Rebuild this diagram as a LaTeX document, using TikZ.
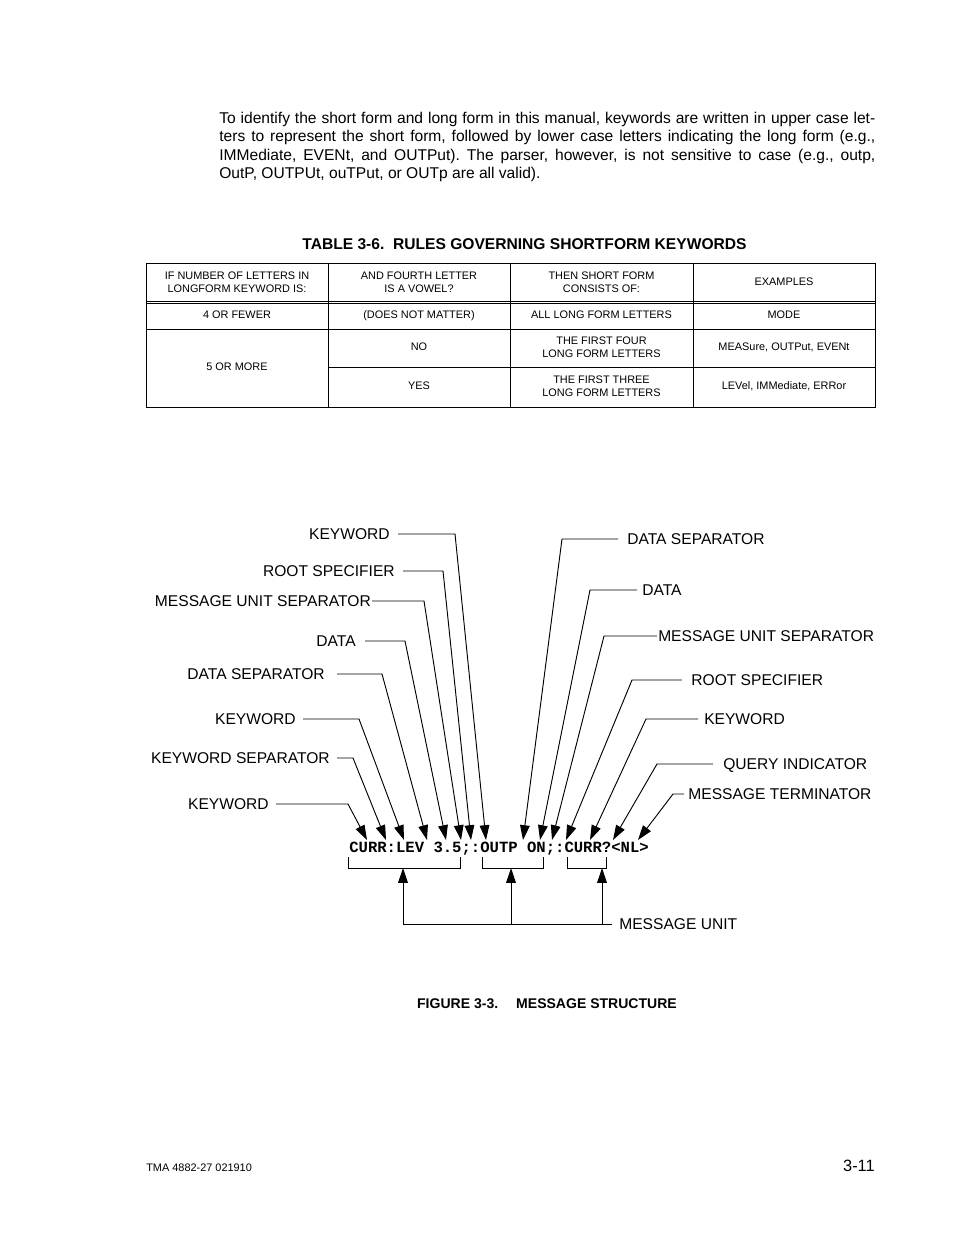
\documentclass[tikz,border=0pt]{standalone}
\usepackage{fontspec}
\setmainfont{Liberation Sans}
\newfontfamily\codefont{Liberation Mono}
\usepackage{tikz}
\usetikzlibrary{arrows.meta, positioning, calc}
\definecolor{ink}{RGB}{0, 0, 0}
\frenchspacing

\begin{document}
\begin{tikzpicture}[
    x=0.64126pt, y=-0.64126pt,
    body/.style={font=\fontsize{10}{11.75}\selectfont, text width=420.7pt,
                 align=justify, inner sep=0pt, anchor=north west},
    caption/.style={font=\fontsize{10}{12}\selectfont\bfseries, inner sep=0pt},
    cell/.style={font=\fontsize{7}{8.3}\selectfont, align=center, inner sep=0pt},
    tablerule/.style={draw=ink, line width=0.6pt},
    tag/.style={font=\fontsize{10}{12}\selectfont, inner sep=3pt,
                text height=7.2pt, text depth=0pt},
    pointer/.style={draw=ink, line width=0.6pt, -{Triangle[length=9.5pt, width=6.2pt]}},
    bracket/.style={draw=ink, line width=0.6pt}
]
    \useasboundingbox (0,0) rectangle (954,1235);

    % ==================== BODY TEXT ====================
    \node[body] (intro) at (219,112) {To identify the short form and long form in this manual, keywords are written in upper case let-\linebreak ters to represent the short form, followed by lower case letters indicating the long form (e.g.,\linebreak IMMediate, EVENt, and OUTPut). The parser, however, is not sensitive to case (e.g., outp,\linebreak OutP, OUTPUt, ouTPut, or OUTp are all valid).};

    % ==================== TABLE ====================
    \node[caption] (tabtitle) at (524.5,244) {TABLE 3-6.\ \ RULES GOVERNING SHORTFORM KEYWORDS};

    \draw[tablerule] (146,263) rectangle (875,407);
    \draw[tablerule] (328,263) -- (328,407);
    \draw[tablerule] (510,263) -- (510,407);
    \draw[tablerule] (693,263) -- (693,407);
    \draw[tablerule] (146,301) -- (875,301);
    \draw[tablerule] (146,303.5) -- (875,303.5);
    \draw[tablerule] (146,329) -- (875,329);
    \draw[tablerule] (328,367) -- (875,367);

    \node[cell] (hletters) at (237,282.5) {IF NUMBER OF LETTERS IN\\LONGFORM KEYWORD IS:};
    \node[cell] (hvowel) at (419,282.5) {AND FOURTH LETTER\\IS A VOWEL?};
    \node[cell] (hshort) at (601.5,282.5) {THEN SHORT FORM\\CONSISTS OF:};
    \node[cell] (hexamples) at (784,282) {EXAMPLES};

    \node[cell] (fewer) at (237,315) {4 OR FEWER};
    \node[cell] (nomatter) at (419,315.8) {(DOES NOT MATTER)};
    \node[cell] (alllong) at (601.5,315) {ALL LONG FORM LETTERS};
    \node[cell] (mode) at (784,315) {MODE};

    \node[cell] (more) at (237,367) {5 OR MORE};
    \node[cell] (no) at (419,347) {NO};
    \node[cell] (firstfour) at (601.5,347.5) {THE FIRST FOUR\\LONG FORM LETTERS};
    \node[cell] (exfour) at (784,347) {MEASure, OUTPut, EVENt};
    \node[cell] (yes) at (419,386) {YES};
    \node[cell] (firstthree) at (601.5,386) {THE FIRST THREE\\LONG FORM LETTERS};
    \node[cell] (exthree) at (784,386) {LEVel, IMMediate, ERRor};

    % ==================== MESSAGE ====================
    \node[font=\codefont\bfseries\fontsize{10}{12}\selectfont, anchor=base west,
          inner sep=0pt] (msg) at (349,852) {CURR:LEV 3.5;:OUTP ON;:CURR?<NL>};

    % arrow tips above the characters
    \coordinate (tcurr) at (367,840);
    \coordinate (tcolon) at (386,840);
    \coordinate (tlev) at (404,840);
    \coordinate (tspace) at (427,840);
    \coordinate (tval) at (446,840);
    \coordinate (tsemi) at (461,840);
    \coordinate (troot) at (471,840);
    \coordinate (toutp) at (486,840);
    \coordinate (tspacetwo) at (523,840);
    \coordinate (ton) at (540,840);
    \coordinate (tsemitwo) at (552,840);
    \coordinate (troottwo) at (566,840);
    \coordinate (tcurrtwo) at (590,840);
    \coordinate (tquery) at (613,840);
    \coordinate (tnl) at (638,840);

    % ==================== LEFT LABELS ====================
    \node[tag, anchor=east, inner xsep=5.1pt] (lkwtop) at (398,534) {KEYWORD};
    \node[tag, anchor=east, inner xsep=5.1pt] (lroot) at (403,571) {ROOT SPECIFIER};
    \node[tag, anchor=east, inner xsep=0.6pt] (lmsgsep) at (372,601) {MESSAGE UNIT SEPARATOR};
    \node[tag, anchor=east, inner xsep=5.8pt] (ldata) at (365,641) {DATA};
    \node[tag, anchor=east, inner xsep=7.7pt] (ldatasep) at (337,674) {DATA SEPARATOR};
    \node[tag, anchor=east, inner xsep=4.5pt] (lkwmid) at (303,719) {KEYWORD};
    \node[tag, anchor=east, inner xsep=4.5pt] (lkwsep) at (337,758) {KEYWORD SEPARATOR};
    \node[tag, anchor=east, inner xsep=4.5pt] (lkwlow) at (276,804) {KEYWORD};

    \draw[pointer] (lkwtop.east) -- ++(57,0) -- (toutp);
    \draw[pointer] (lroot.east) -- ++(40,0) -- (troot);
    \draw[pointer] (lmsgsep.east) -- ++(52,0) -- (tsemi);
    \draw[pointer] (ldata.east) -- ++(40,0) -- (tval);
    \draw[pointer] (ldatasep.east) -- ++(45,0) -- (tspace);
    \draw[pointer] (lkwmid.east) -- ++(56,0) -- (tlev);
    \draw[pointer] (lkwsep.east) -- ++(16,0) -- (tcolon);
    \draw[pointer] (lkwlow.east) -- ++(72,0) -- (tcurr);

    % ==================== RIGHT LABELS ====================
    \node[tag, anchor=west, inner xsep=5.8pt] (rdatasep) at (618,539) {DATA SEPARATOR};
    \node[tag, anchor=west, inner xsep=3.2pt] (rdata) at (637,590) {DATA};
    \node[tag, anchor=west, inner xsep=0.6pt] (rmsgsep) at (657,636) {MESSAGE UNIT SEPARATOR};
    \node[tag, anchor=west, inner xsep=5.8pt] (rroot) at (682,680) {ROOT SPECIFIER};
    \node[tag, anchor=west, inner xsep=3.8pt] (rkw) at (698,719) {KEYWORD};
    \node[tag, anchor=west, inner xsep=6.4pt] (rquery) at (713,764) {QUERY INDICATOR};
    \node[tag, anchor=west, inner xsep=2.6pt] (rterm) at (684,794) {MESSAGE TERMINATOR};

    \draw[pointer] (rdatasep.west) -- ++(-56,0) -- (tspacetwo);
    \draw[pointer] (rdata.west) -- ++(-47,0) -- (ton);
    \draw[pointer] (rmsgsep.west) -- ++(-53,0) -- (tsemitwo);
    \draw[pointer] (rroot.west) -- ++(-50,0) -- (troottwo);
    \draw[pointer] (rkw.west) -- ++(-52,0) -- (tcurrtwo);
    \draw[pointer] (rquery.west) -- ++(-56,0) -- (tquery);
    \draw[pointer] (rterm.west) -- ++(-11,0) -- (tnl);

    % ==================== MESSAGE UNITS ====================
    \draw[bracket] (348,857) -- (348,868) -- (460,868) -- (460,857);
    \draw[bracket] (482,857) -- (482,868) -- (543,868) -- (543,857);
    \draw[bracket] (567,857) -- (567,868) -- (606,868) -- (606,857);
    \coordinate (unitone) at (403,868);
    \coordinate (unittwo) at (511,868);
    \coordinate (unitthree) at (602,868);

    \node[tag, anchor=west, inner xsep=4.5pt] (msgunit) at (612,924) {MESSAGE UNIT};
    \draw[bracket] (msgunit.west) -- (unitone |- msgunit.west);
    \draw[pointer] (unitone |- msgunit.west) -- (unitone);
    \draw[pointer] (unittwo |- msgunit.west) -- (unittwo);
    \draw[pointer] (unitthree |- msgunit.west) -- (unitthree);

    % ==================== CAPTION AND FOOTER ====================
    \node[caption, font=\fontsize{9}{11}\selectfont\bfseries] (figtitle) at (547,1004)
        {FIGURE 3-3.\hspace{11.5pt}MESSAGE STRUCTURE};
    \node[anchor=west, inner sep=0pt, font=\fontsize{7}{8.4}\selectfont] (docno) at (146,1168)
        {TMA 4882-27 021910};
    \node[anchor=east, inner sep=0pt, font=\fontsize{10.5}{12}\selectfont] (pageno) at (875,1166)
        {3-11};
\end{tikzpicture}
\end{document}
